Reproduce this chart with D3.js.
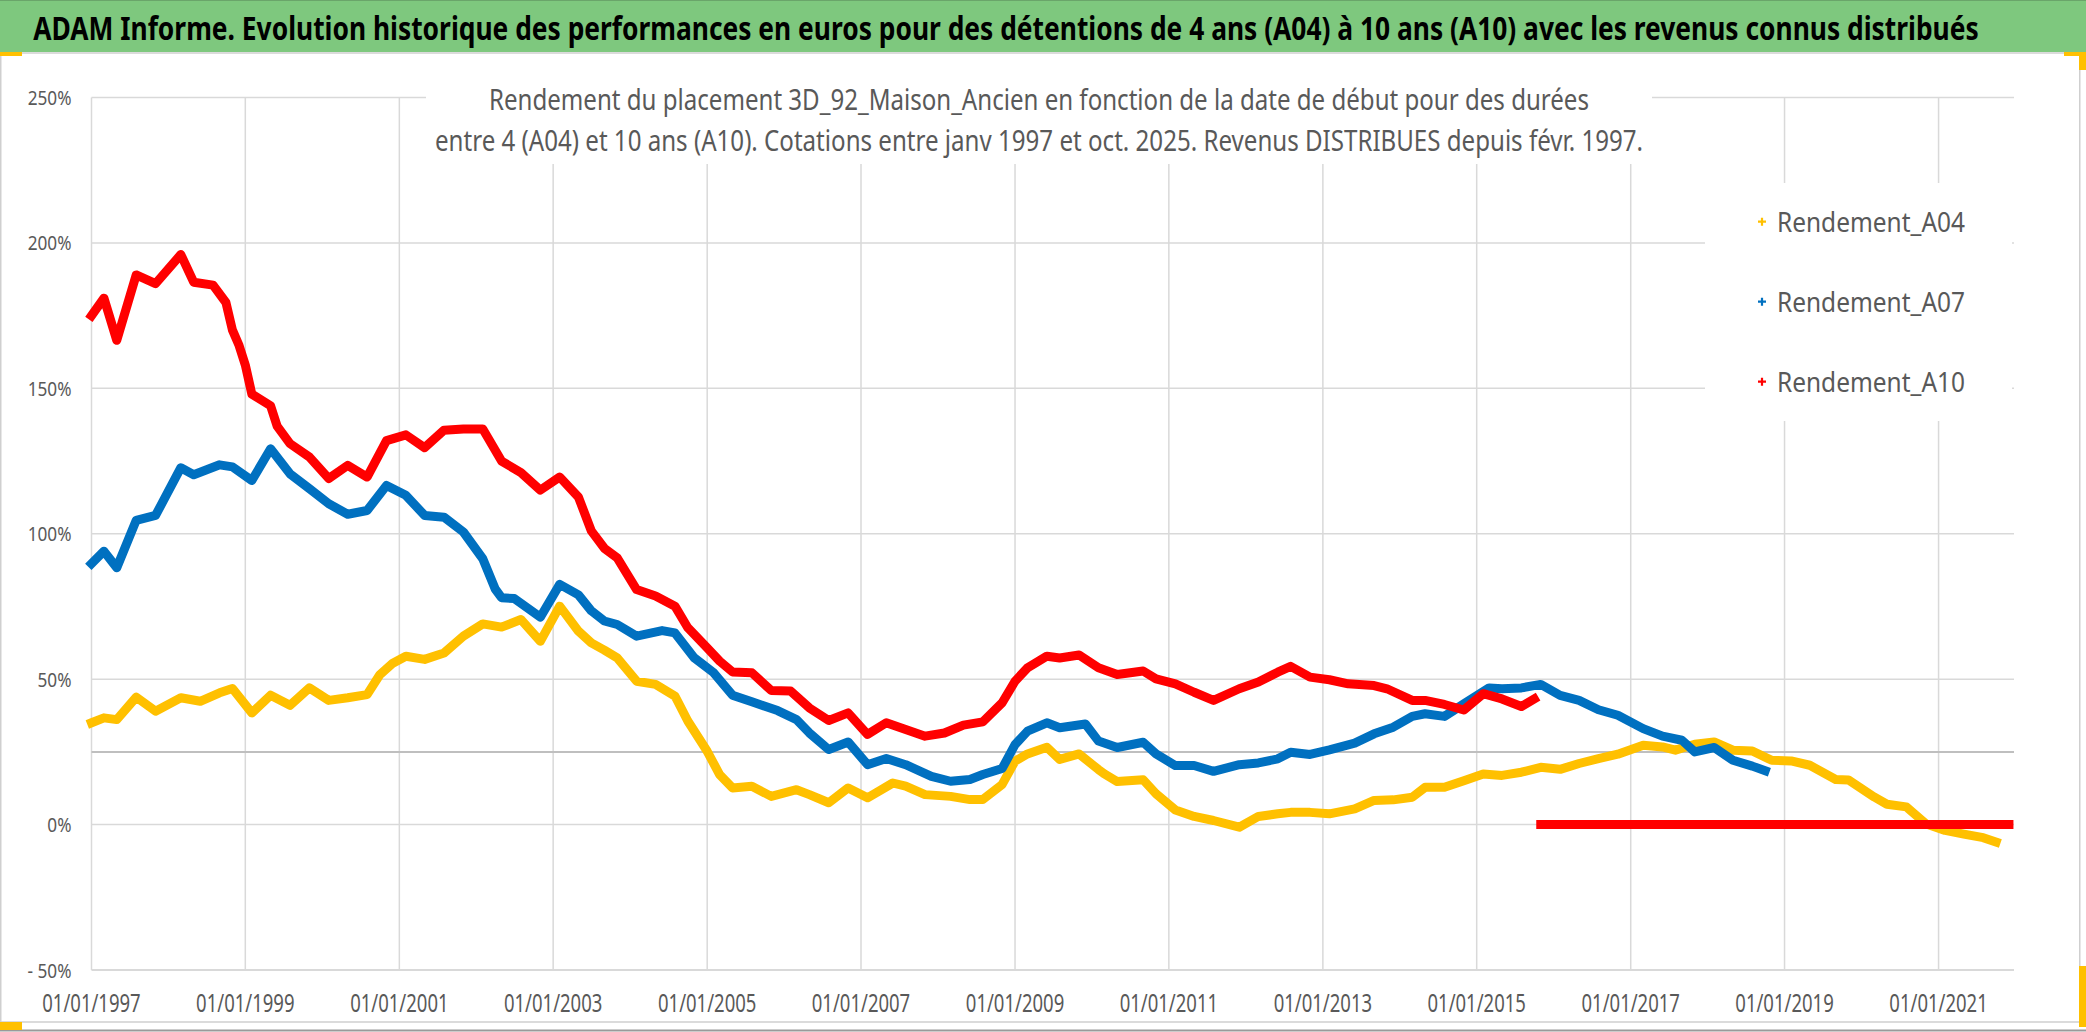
<!DOCTYPE html>
<html>
<head>
<meta charset="utf-8">
<script src="https://cdn.jsdelivr.net/npm/d3@7/dist/d3.min.js"></script>
<style>
  body { margin: 0; background: #fff; }
  svg text { font-family: "Noto Sans", "Open Sans", sans-serif; }
</style>
</head>
<body>
<svg id="chart" width="2086" height="1032"></svg>
<script>
// ---- data (month "YYYY-MM", return in %) ----
var titleText = "ADAM Informe. Evolution historique des performances en euros pour des détentions de 4 ans (A04) à 10 ans (A10) avec les revenus connus distribués";
var subtitleLines = [
  "Rendement du placement 3D_92_Maison_Ancien en fonction de la date de début pour des durées",
  "entre 4 (A04) et 10 ans (A10). Cotations entre janv 1997 et oct. 2025. Revenus DISTRIBUES depuis févr. 1997."
];
var seriesNames = ["Rendement_A04", "Rendement_A07", "Rendement_A10"];
var seriesColors = ["#FFC000", "#0070C0", "#FF0000"];
var yTicks = [-50, 0, 50, 100, 150, 200, 250];
var xTickYears = [1997, 1999, 2001, 2003, 2005, 2007, 2009, 2011, 2013, 2015, 2017, 2019, 2021];
var refLine = 25;

var A04 = [
  ["1997-01",35],["1997-03",36.7],["1997-05",36.1],["1997-08",43.8],["1997-11",39],
  ["1998-03",43.6],["1998-06",42.4],["1998-09",45.3],["1998-11",46.8],["1999-02",38.4],
  ["1999-05",44.5],["1999-08",41],["1999-11",47],["2000-02",42.7],["2000-05",43.6],
  ["2000-08",44.7],["2000-10",51.6],["2000-12",55.5],["2001-02",57.9],["2001-05",56.8],
  ["2001-08",59],["2001-11",64.8],["2002-02",69],["2002-05",67.9],["2002-08",70.5],
  ["2002-11",63],["2003-02",75.1],["2003-05",66.5],["2003-07",62.5],["2003-09",60],
  ["2003-11",57.3],["2004-02",49.3],["2004-05",48.2],["2004-08",44.2],["2004-10",35.6],
  ["2005-01",25.2],["2005-03",17.2],["2005-05",12.6],["2005-08",13.2],["2005-11",9.7],
  ["2006-03",12],["2006-05",10.3],["2006-08",7.5],["2006-11",12.6],["2007-02",9.2],
  ["2007-06",14.3],["2007-08",13.2],["2007-11",10.3],["2008-03",9.7],["2008-06",8.6],
  ["2008-08",8.6],["2008-11",13.8],["2009-01",21.8],["2009-03",24.3],["2009-06",26.6],
  ["2009-08",22.4],["2009-11",24.3],["2010-02",18.9],["2010-03",17.4],["2010-05",14.8],
  ["2010-09",15.4],["2010-11",10.6],["2011-02",5],["2011-05",2.8],["2011-08",1.4],
  ["2011-12",-0.9],["2012-03",2.8],["2012-06",3.7],["2012-08",4.2],["2012-11",4.2],
  ["2013-02",3.7],["2013-06",5.4],["2013-09",8.3],["2013-12",8.5],["2014-03",9.4],
  ["2014-05",12.8],["2014-08",12.8],["2014-11",15.1],["2015-02",17.4],["2015-05",16.9],
  ["2015-08",18],["2015-11",19.7],["2016-02",19],["2016-05",21],["2016-08",22.7],
  ["2016-11",24.2],["2017-03",27.3],["2017-06",26.7],["2017-08",25.6],["2017-11",27.6],
  ["2018-02",28.4],["2018-05",25.6],["2018-08",25.3],["2018-11",22.1],["2019-02",21.9],
  ["2019-05",20.4],["2019-09",15.5],["2019-11",15.3],["2020-03",9.5],["2020-05",7],
  ["2020-08",6.1],["2020-11",0.3],["2021-02",-2],["2021-05",-3.3],["2021-08",-4.5],
  ["2021-10",-6]
];

var A07 = [
  ["1997-01",89.7],["1997-03",94],["1997-05",88.3],["1997-08",104.6],["1997-11",106.3],
  ["1998-03",122.7],["1998-05",120.3],["1998-09",123.7],["1998-11",123],["1999-02",118.3],
  ["1999-05",129.2],["1999-08",120.6],["1999-11",115.5],["2000-02",110.3],["2000-05",106.7],
  ["2000-08",108],["2000-11",116.6],["2001-02",113.2],["2001-05",106.3],["2001-08",105.7],
  ["2001-11",100.6],["2002-02",91.4],["2002-04",81],["2002-05",78],["2002-07",77.7],
  ["2002-11",71.3],["2003-02",82.6],["2003-05",79],["2003-07",73.5],["2003-09",70],
  ["2003-11",68.8],["2004-02",64.8],["2004-06",66.7],["2004-08",65.9],["2004-11",57.3],
  ["2005-02",52.2],["2005-05",44.5],["2005-08",42.2],["2005-12",39.2],["2006-03",36.1],
  ["2006-05",31.5],["2006-08",25.8],["2006-11",28.4],["2007-02",20.6],["2007-05",22.7],
  ["2007-08",20.6],["2007-12",16.6],["2008-03",14.9],["2008-06",15.5],["2008-08",17.2],
  ["2008-11",19.3],["2009-01",27.5],["2009-03",32.1],["2009-06",35],["2009-08",33.3],
  ["2009-12",34.6],["2010-02",28.7],["2010-05",26.5],["2010-09",28.3],["2010-11",24.3],
  ["2011-02",20.3],["2011-05",20.3],["2011-08",18.3],["2011-12",20.6],["2012-03",21.2],
  ["2012-06",22.6],["2012-08",24.9],["2012-11",24.1],["2013-02",25.7],["2013-06",28],
  ["2013-09",31.2],["2013-12",33.5],["2014-03",37.2],["2014-05",38.1],["2014-08",37.2],
  ["2014-11",41.5],["2015-03",47],["2015-05",46.7],["2015-08",47],["2015-11",48.2],
  ["2016-02",44.4],["2016-05",42.7],["2016-08",39.5],["2016-11",37.6],["2017-03",33],
  ["2017-06",30.4],["2017-09",29],["2017-11",25],["2018-02",26.5],["2018-05",22.1],
  ["2018-08",20.1],["2018-10",18.5]
];

var A10 = [
  ["1997-01",175],["1997-03",181],["1997-05",166.5],["1997-08",189],["1997-11",186],
  ["1998-03",196],["1998-05",186.5],["1998-08",185.5],["1998-10",179.5],["1998-11",170],
  ["1998-12",165],["1999-01",158],["1999-02",148],["1999-05",144],["1999-06",137],
  ["1999-08",131],["1999-11",126.4],["2000-02",119],["2000-05",123.5],["2000-08",119.5],
  ["2000-11",132],["2001-02",134],["2001-05",129.6],["2001-08",135.6],["2001-11",136],
  ["2002-02",136],["2002-05",125],["2002-08",121],["2002-11",115],["2003-02",119.5],
  ["2003-05",112.6],["2003-07",101],["2003-09",95],["2003-11",91.7],["2004-02",80.8],
  ["2004-05",78.6],["2004-08",75.1],["2004-10",67.7],["2005-01",60.8],["2005-03",56.2],
  ["2005-05",52.5],["2005-08",52.2],["2005-11",46.1],["2006-02",45.9],["2006-05",40.1],
  ["2006-08",35.8],["2006-11",38.4],["2007-02",31],["2007-05",35],["2007-08",32.7],
  ["2007-11",30.4],["2008-02",31.5],["2008-05",34.2],["2008-08",35.3],["2008-11",41.9],
  ["2009-01",49.3],["2009-03",53.9],["2009-06",57.9],["2009-08",57.3],["2009-11",58.3],
  ["2010-02",53.9],["2010-05",51.6],["2010-09",52.8],["2010-11",50.1],["2011-02",48.4],
  ["2011-05",45.5],["2011-08",42.7],["2011-12",46.7],["2012-03",49],["2012-06",52.4],
  ["2012-08",54.4],["2012-11",50.7],["2013-02",49.8],["2013-05",48.4],["2013-09",47.8],
  ["2013-11",46.7],["2014-03",42.7],["2014-05",42.7],["2014-08",41.3],["2014-11",39.4],
  ["2015-02",45],["2015-05",43.2],["2015-08",40.6],["2015-10",43.2]
];
// A10 has no known value after oct. 2015: the sheet shows it as 0
var A10zero = [["2015-11",0],["2021-12",0]];

// ---- layout ----
var W = 2086, H = 1032;
var plot = { left: 91.5, right: 2014, top: 97.5, bottom: 970 };
var svg = d3.select("#chart");
var parse = d3.timeParse("%Y-%m");

var x = d3.scaleTime()
  .domain([new Date(1997, 0, 1), new Date(2021, 11, 25)])
  .range([plot.left, plot.right]);
var y = d3.scaleLinear()
  .domain([-50, 250])
  .range([plot.bottom, plot.top]);

svg.append("rect").attr("width", W).attr("height", H).attr("fill", "#fff");

// chart frame
svg.append("rect")
  .attr("x", 0.75).attr("y", 53).attr("width", 2079).attr("height", 969)
  .attr("fill", "#fff").attr("stroke", "#cfcfcf").attr("stroke-width", 1.5);
svg.append("line")
  .attr("x1", 0).attr("x2", W).attr("y1", 1030.5).attr("y2", 1030.5)
  .attr("stroke", "#9a9a9a").attr("stroke-width", 2);

// green header
svg.append("rect").attr("x", 0).attr("y", 0).attr("width", W).attr("height", 52)
  .attr("fill", "#7ec87e");
svg.append("line").attr("x1", 0).attr("x2", W).attr("y1", 0.5).attr("y2", 0.5)
  .attr("stroke", "#6aa56a");
var title = svg.append("text")
  .attr("text-anchor", "middle")
  .attr("font-size", 32).attr("font-weight", "bold").attr("fill", "#000")
  .text(titleText);
var tw = title.node().getComputedTextLength();
title.attr("transform", "translate(1006,40) scale(" + (1946 / tw) + ",1)");

// excel selection handles
[[0, 52, 22, 4], [2064, 52, 22, 4], [2079, 52, 7, 18], [0, 1022, 22, 8], [2079, 966, 7, 61]]
  .forEach(function(r) {
    svg.append("rect").attr("x", r[0]).attr("y", r[1]).attr("width", r[2]).attr("height", r[3])
      .attr("fill", "#ffc000");
  });

// grid
var xDates = xTickYears.map(function(yr) { return new Date(yr, 0, 1); });
var grid = svg.append("g");
grid.selectAll(".vg").data(xDates).enter().append("line")
  .attr("x1", function(d) { return x(d); }).attr("x2", function(d) { return x(d); })
  .attr("y1", plot.top).attr("y2", plot.bottom)
  .attr("stroke", "#d9d9d9").attr("stroke-width", 1.5);
grid.selectAll(".hg").data(yTicks).enter().append("line")
  .attr("x1", plot.left).attr("x2", plot.right)
  .attr("y1", function(d) { return y(d); }).attr("y2", function(d) { return y(d); })
  .attr("stroke", "#d9d9d9").attr("stroke-width", function(d) { return d === -50 ? 2.2 : 1.5; });

// title box and legend box hide the grid behind them
svg.append("rect").attr("x", 426).attr("y", 58).attr("width", 1226).attr("height", 106).attr("fill", "#fff");
svg.append("rect").attr("x", 1705).attr("y", 183).attr("width", 307).attr("height", 238).attr("fill", "#fff");

// 25% reference line
svg.append("line")
  .attr("x1", plot.left).attr("x2", plot.right)
  .attr("y1", y(refLine)).attr("y2", y(refLine))
  .attr("stroke", "#bfbfbf").attr("stroke-width", 2);

// axis labels
var yLab = svg.append("g").attr("fill", "#595959").attr("font-size", 20).attr("text-anchor", "end");
yLab.selectAll("text").data(yTicks).enter().append("text")
  .attr("x", 71.5).attr("y", function(d) { return y(d) + 7.5; })
  .text(function(d) { return d < 0 ? "- " + Math.abs(d) + "%" : d + "%"; });
var xLab = svg.append("g").attr("fill", "#595959").attr("font-size", 25).attr("text-anchor", "middle");
var fmt = d3.timeFormat("%d/%m/%Y");
xLab.selectAll("text").data(xDates).enter().append("text")
  .attr("x", function(d) { return x(d); }).attr("y", 1011.5)
  .text(fmt);

// squeeze the labels to the narrow face of the original
function squeeze(sel, k) {
  sel.each(function() {
    var w = this.getComputedTextLength();
    d3.select(this).attr("textLength", w * k).attr("lengthAdjust", "spacingAndGlyphs");
  });
}
squeeze(yLab.selectAll("text"), 0.86);
squeeze(xLab.selectAll("text"), 0.74);

// subtitle
svg.append("g").attr("fill", "#595959").attr("font-size", 28.5).attr("text-anchor", "middle")
  .selectAll("text").data(subtitleLines).enter().append("text")
  .attr("x", 1039).attr("y", function(d, i) { return 110 + i * 41; })
  .attr("textLength", function(d, i) { return i === 0 ? 1100 : 1208; })
  .attr("lengthAdjust", "spacingAndGlyphs")
  .text(function(d) { return d; });

// series
var line = d3.line()
  .x(function(d) { return x(parse(d[0])); })
  .y(function(d) { return y(d[1]); });
var series = [[A04], [A07], [A10, A10zero]];
series.forEach(function(parts, i) {
  parts.forEach(function(pts) {
    svg.append("path")
      .datum(pts)
      .attr("d", line)
      .attr("fill", "none")
      .attr("stroke", seriesColors[i])
      .attr("stroke-width", 9)
      .attr("stroke-linejoin", "round")
      .attr("stroke-linecap", "square");
  });
});

// legend
var leg = svg.append("g");
seriesNames.forEach(function(name, i) {
  var cy = 221.7 + i * 80;
  leg.append("path")
    .attr("d", "M" + (1758) + "," + cy + "h8M" + 1762 + "," + (cy - 4) + "v8")
    .attr("stroke", seriesColors[i]).attr("stroke-width", 2.2);
  leg.append("text")
    .attr("x", 1777).attr("y", cy + 10)
    .attr("fill", "#595959").attr("font-size", 28)
    .attr("textLength", 188).attr("lengthAdjust", "spacingAndGlyphs")
    .text(name);
});
</script>
</body>
</html>
